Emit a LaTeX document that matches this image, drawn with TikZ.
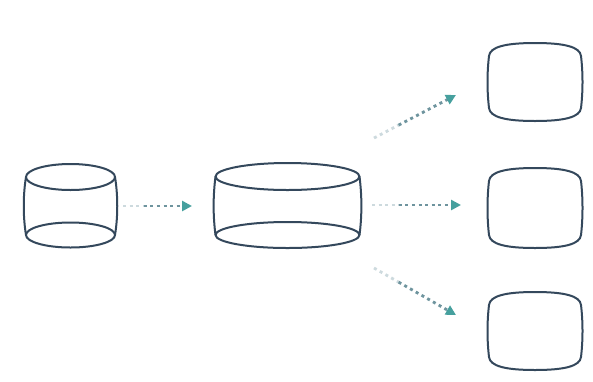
\documentclass[tikz,border=0pt]{standalone}
\usetikzlibrary{arrows.meta,calc}
\definecolor{stroke}{RGB}{52,72,92}
\definecolor{teal1}{RGB}{70,160,158}
\definecolor{dotc}{RGB}{110,148,158}
\definecolor{dotl}{RGB}{205,218,222}
\tikzset{
  shapeline/.style={draw=stroke, line width=2pt, line join=round},
  flowfaint/.style={draw=dotl, line width=2.8pt, dash pattern=on 3pt off 3.6pt},
  flow/.style={draw=dotc, line width=2.8pt, dash pattern=on 3pt off 3.6pt,
    -{Triangle[length=10pt,width=10pt,fill=teal1,color=teal1]}},
}
\begin{document}
\begin{tikzpicture}[x=1pt,y=-1pt]
\useasboundingbox (0,0) rectangle (593,381);
\fill[white] (0,0) rectangle (593,381);
% small cylinder
\draw[shapeline] (70.5,177) ellipse (44.5 and 13);
\draw[shapeline] (70.5,235) ellipse (44.5 and 12.5);
\draw[shapeline] (26,177) .. controls (23,195) and (23,217) .. (26,235);
\draw[shapeline] (115,177) .. controls (118,195) and (118,217) .. (115,235);
% big cylinder
\draw[shapeline] (287.5,176.5) ellipse (72 and 13.5);
\draw[shapeline] (287.5,235) ellipse (72 and 13);
\draw[shapeline] (215.5,176.5) .. controls (213,196) and (213,216) .. (215.5,235);
\draw[shapeline] (359.5,176.5) .. controls (362,196) and (362,216) .. (359.5,235);
% boxes
\foreach \n/\yt/\yb in {b1/43/121, b2/168/248, b3/292/370}{
  \draw[shapeline] (489,\yt+13) .. controls (490,\yt+4) and (505,\yt) .. (535,\yt)
     .. controls (565,\yt) and (580,\yt+4) .. (581,\yt+13)
     .. controls (583,\yt+30) and (583,\yb-30) .. (581,\yb-13)
     .. controls (580,\yb-4) and (565,\yb) .. (535,\yb)
     .. controls (505,\yb) and (490,\yb-4) .. (489,\yb-13)
     .. controls (487,\yb-30) and (487,\yt+30) .. cycle;
}
% arrow end points
\coordinate (a1s) at (123,206);
\coordinate (a1e) at (192,206);
\coordinate (a2s) at (372,205);
\coordinate (a2e) at (461,205);
\coordinate (a3s) at (374,138);
\coordinate (a3e) at (456,95);
\coordinate (a4s) at (374,268);
\coordinate (a4e) at (456,315);
\foreach \s/\e in {a1s/a1e, a2s/a2e, a3s/a3e, a4s/a4e}{
  \draw[flowfaint] (\s) -- ($(\s)!0.3!(\e)$);
  \draw[flow] ($(\s)!0.3!(\e)$) -- (\e);
}
\end{tikzpicture}
\end{document}
